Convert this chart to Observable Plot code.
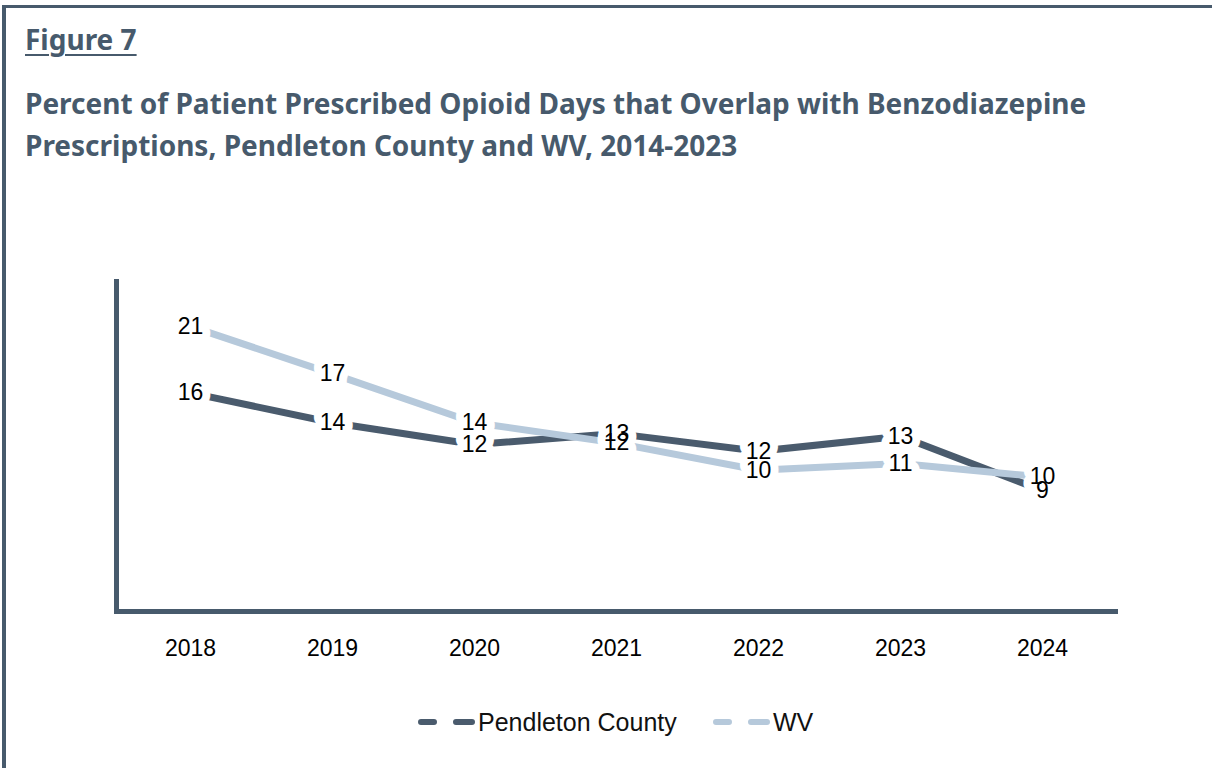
<!DOCTYPE html>
<html>
<head>
<meta charset="utf-8">
<script src="https://cdn.jsdelivr.net/npm/d3@7"></script>
<script src="https://cdn.jsdelivr.net/npm/@observablehq/plot@0.6"></script>
<style>
  html, body { margin: 0; padding: 0; background: #fff; }
  body { width: 1212px; height: 768px; position: relative; overflow: hidden; font-family: "Liberation Sans", Arial, sans-serif; }
  #frame { position: absolute; left: 2px; top: 5px; width: 1300px; height: 900px; border-top: 3px solid #475a6c; border-left: 4px solid #475a6c; box-sizing: border-box; }
  #fig { position: absolute; left: 25px; top: 20px; font-family: "Noto Sans", sans-serif; font-weight: 700; font-size: 28px; color: #475a6c; text-decoration: underline; text-decoration-thickness: 2px; text-underline-offset: 4px; }
  #title { position: absolute; left: 25px; top: 82px; font-family: "Noto Sans", sans-serif; font-weight: 700; font-size: 28px; line-height: 42px; color: #475a6c; white-space: nowrap; }
  #chart { position: absolute; left: 0; top: 260px; }
  #legend { position: absolute; top: 707px; left: 0; width: 1212px; height: 30px; }
  .item { position: absolute; top: 0; display: flex; align-items: center; height: 30px; font-size: 25px; color: #111; }
  .item svg { margin-right: 2px; }
</style>
</head>
<body>
<div id="frame"></div>
<div id="fig">Figure 7</div>
<div id="title">Percent of Patient Prescribed Opioid Days that Overlap with Benzodiazepine<br>Prescriptions, Pendleton County and WV, 2014-2023</div>
<div id="chart"></div>
<div id="legend"></div>
<script>
const years = ["2018", "2019", "2020", "2021", "2022", "2023", "2024"];
const seriesNames = ["Pendleton County", "WV"];
const pendletonValues = [16.1, 13.9, 12.3, 13.1, 11.8, 12.9, 8.9];
const wvValues = [21.0, 17.5, 13.9, 12.4, 10.4, 10.9, 9.9];
const pendletonLabels = ["16", "14", "12", "13", "12", "13", "9"];
const wvLabels = ["21", "17", "14", "12", "10", "11", "10"];
const seriesColors = ["#4a5b6d", "#b6c9db"];

const rows = [];
years.forEach((yr, i) => rows.push({year: yr, series: seriesNames[0], value: pendletonValues[i], label: pendletonLabels[i]}));
years.forEach((yr, i) => rows.push({year: yr, series: seriesNames[1], value: wvValues[i], label: wvLabels[i]}));

const axisColor = "#475a6c";
const fontFam = '"Liberation Sans", Arial, sans-serif';

const chart = Plot.plot({
  width: 1212,
  height: 420,
  marginLeft: 116,
  marginRight: 97,
  marginTop: 21,
  marginBottom: 69,
  style: {fontFamily: fontFam, background: "transparent", overflow: "visible"},
  x: {type: "point", domain: years, padding: 0.5},
  y: {domain: [0, 24.3], axis: null},
  color: {domain: seriesNames, range: seriesColors},
  marks: [
    Plot.axisX({tickSize: 0, tickPadding: 28, fontSize: 23, fill: "#000", label: null}),
    Plot.frame({anchor: "left", stroke: axisColor, strokeWidth: 5, strokeOpacity: 1}),
    Plot.frame({anchor: "bottom", stroke: axisColor, strokeWidth: 5, strokeOpacity: 1}),
    Plot.line(rows, {x: "year", y: "value", z: "series", stroke: "series", strokeWidth: 7, strokeLinecap: "butt", strokeLinejoin: "miter"}),
    Plot.text(rows, {x: "year", y: "value", text: "label", fill: "white", stroke: "white", strokeWidth: 16, fontSize: 23, fontFamily: fontFam}),
    Plot.text(rows, {x: "year", y: "value", text: "label", fill: "#000", fontSize: 23, fontFamily: fontFam})
  ]
});
document.getElementById("chart").appendChild(chart);

// legend
const legend = document.getElementById("legend");
const legendX = [418, 713];
seriesNames.forEach((name, i) => {
  const item = document.createElement("div");
  item.className = "item";
  item.style.left = legendX[i] + "px";
  item.innerHTML = `<svg width="58" height="10"><line x1="3" y1="5" x2="54" y2="5" stroke="${seriesColors[i]}" stroke-width="6" stroke-linecap="round" stroke-dasharray="13 22 30"></line></svg><span>${name}</span>`;
  legend.appendChild(item);
});
</script>
</body>
</html>
